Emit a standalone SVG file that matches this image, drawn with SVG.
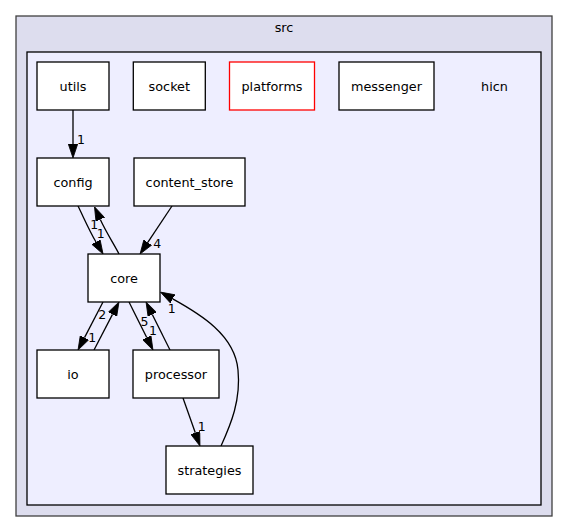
<svg xmlns="http://www.w3.org/2000/svg" width="568" height="532" viewBox="0 0 568 532">
<style>
text{font-family:"DejaVu Sans","Liberation Sans",sans-serif;font-size:12.8px;fill:#000;text-anchor:middle}
.node{fill:#fff;stroke:#000;stroke-width:1.3}
.trunc{fill:#fff;stroke:#ff0000;stroke-width:1.3}
.edge{fill:none;stroke:#000;stroke-width:1.3}
.lbl{font-size:12.5px}
</style>
<defs>
<marker id="arr" viewBox="0 0 14 10" refX="0" refY="5" markerWidth="14" markerHeight="10" markerUnits="userSpaceOnUse" orient="auto">
<path d="M0,0.3 L14,5 L0,9.7 z" fill="#000" stroke="#000" stroke-width="0.8"/>
</marker>
</defs>
<rect width="568" height="532" fill="#fff"/>
<g id="cluster_src">
<rect x="16" y="16" width="536" height="500" fill="#ddddee" stroke="#404040" stroke-width="1.3"/>
<text x="284" y="32">src</text>
</g>
<g id="cluster_hicn">
<rect x="27" y="52" width="514" height="453" fill="#eeeeff" stroke="#000" stroke-width="1.3"/>
<text x="494.5" y="90.5">hicn</text>
</g>
<g id="connectors">
<path class="edge" d="M73,110 V144" marker-end="url(#arr)"/>
<path class="edge" d="M78,206 C83,216 89,230 96,242" marker-end="url(#arr)"/>
<path class="edge" d="M119,254 C115,246 106,232 100.3,219.5" marker-end="url(#arr)"/>
<path class="edge" d="M172,206 L147.8,242.4" marker-end="url(#arr)"/>
<path class="edge" d="M103,302 L84.5,337.6" marker-end="url(#arr)"/>
<path class="edge" d="M94,350 L112.5,314.4" marker-end="url(#arr)"/>
<path class="edge" d="M129,302 L146.7,337.5" marker-end="url(#arr)"/>
<path class="edge" d="M170,350 L152.3,314.5" marker-end="url(#arr)"/>
<path class="edge" d="M221,446 C231,424 241,400 238,370 C235,335 200,314 172.7,298.9" marker-end="url(#arr)"/>
<path class="edge" d="M183,398 L195.3,432.8" marker-end="url(#arr)"/>
<text class="lbl" x="81" y="143.7">1</text>
<text class="lbl" x="94.3" y="228.7">1</text>
<text class="lbl" x="100.7" y="238">1</text>
<text class="lbl" x="157.3" y="248">4</text>
<text class="lbl" x="102.3" y="319.4">2</text>
<text class="lbl" x="92.3" y="341.7">1</text>
<text class="lbl" x="144.5" y="326">5</text>
<text class="lbl" x="153" y="335">1</text>
<text class="lbl" x="171.7" y="312.7">1</text>
<text class="lbl" x="201.7" y="430.7">1</text>
</g>
<g id="node_utils"><rect class="node" x="37" y="62" width="72" height="48"/><text x="73" y="90.5">utils</text></g>
<g id="node_socket"><rect class="node" x="133.3" y="62" width="72" height="48"/><text x="169.3" y="90.5">socket</text></g>
<g id="node_platforms"><rect class="trunc" x="229.5" y="62" width="85" height="48"/><text x="272" y="90.5">platforms</text></g>
<g id="node_messenger"><rect class="node" x="339" y="62" width="95" height="48"/><text x="386.5" y="90.5">messenger</text></g>
<g id="node_config"><rect class="node" x="37" y="158" width="72" height="48"/><text x="73" y="186.5">config</text></g>
<g id="node_content_store"><rect class="node" x="134" y="158" width="111" height="48"/><text x="189.5" y="186.5">content_store</text></g>
<g id="node_core"><rect class="node" x="88" y="254" width="72" height="48"/><text x="124" y="282.5">core</text></g>
<g id="node_io"><rect class="node" x="37" y="350" width="72" height="48"/><text x="73" y="378.5">io</text></g>
<g id="node_processor"><rect class="node" x="133" y="350" width="86" height="48"/><text x="176" y="378.5">processor</text></g>
<g id="node_strategies"><rect class="node" x="166" y="446" width="87" height="48"/><text x="209.5" y="474.5">strategies</text></g>
</svg>
